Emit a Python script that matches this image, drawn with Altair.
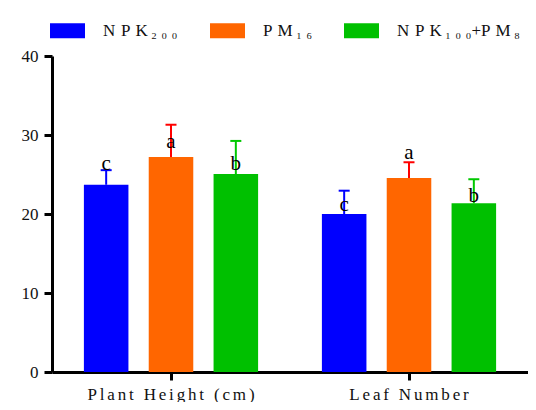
import altair as alt
import pandas as pd

groups = ["Plant Height (cm)", "Leaf Number"]
treatments = [
    "N \u200aP \u200aK\u2009\u2082 \u2080 \u2080",
    "P \u200aM\u2009\u2081 \u2086",
    "N \u200aP \u200aK\u2009\u2081 \u2080 \u2080+P \u200aM\u2009\u2088",
]
means_height = [23.7, 27.2, 25.05]
means_leaf = [20.0, 24.55, 21.35]
err_height = [1.85, 4.1, 4.2]
err_leaf = [2.95, 2.0, 3.05]
letters_height = ["c", "a", "b"]
letters_leaf = ["c", "a", "b"]
letter_y_height = [25.6, 28.4, 25.6]
letter_y_leaf = [20.4, 26.9, 21.5]

bar_colors = ["#0000FF", "#FF6600", "#00C000"]
err_colors = ["#0000FF", "#FF0000", "#00C800"]

rows = []
for g, means, errs, lets, ly in [
    (groups[0], means_height, err_height, letters_height, letter_y_height),
    (groups[1], means_leaf, err_leaf, letters_leaf, letter_y_leaf),
]:
    for t, m, e, l, y in zip(treatments, means, errs, lets, ly):
        rows.append({"group": g, "treatment": t, "mean": m, "top": m + e, "letter": l, "ly": y})
df = pd.DataFrame(rows)

FONT = "Liberation Serif"

x_enc = alt.X(
    "group:N",
    sort=groups,
    scale=alt.Scale(paddingInner=0, paddingOuter=0),
    axis=alt.Axis(
        title=None,
        labelAngle=0,
        labelFont=FONT,
        labelFontSize=17,
        labelColor="#111111",
        labelPadding=6,
        labelExpr="join(split(datum.label, ''), '\u2006')",
        domainColor="black",
        domainWidth=3,
        tickColor="black",
        tickWidth=3,
        tickSize=8,
    ),
)
xoff = alt.XOffset("treatment:N", sort=treatments, scale=alt.Scale(paddingInner=0.313, paddingOuter=0.492))
y_scale = alt.Scale(domain=[0, 40], nice=False)

base = alt.Chart(df)

bars = base.mark_bar().encode(
    x=x_enc,
    xOffset=xoff,
    y=alt.Y(
        "mean:Q",
        scale=y_scale,
        axis=alt.Axis(
            title=None,
            values=[0, 10, 20, 30, 40],
            grid=False,
            labelFont=FONT,
            labelFontSize=17,
            labelColor="#111111",
            labelPadding=6,
            domainColor="black",
            domainWidth=3,
            tickColor="black",
            tickWidth=3,
            tickSize=8,
        ),
    ),
    color=alt.Color(
        "treatment:N",
        sort=treatments,
        scale=alt.Scale(domain=treatments, range=bar_colors),
        legend=alt.Legend(
            title=None,
            orient="none",
            direction="horizontal",
            legendX=-2,
            legendY=-43,
            symbolType="M-1,-0.43H1V0.43H-1Z",
            symbolSize=1225,
            symbolStrokeWidth=0,
            symbolOpacity=1,
            labelFont=FONT,
            labelFontSize=17,
            labelColor="#111111",
            labelOffset=18,
            columnPadding=31,
            padding=0,
        ),
    ),
)

rules = base.mark_rule(strokeWidth=2).encode(
    x=x_enc,
    xOffset=xoff,
    y=alt.Y("mean:Q", scale=y_scale),
    y2="top:Q",
    color=alt.Color("treatment:N", scale=alt.Scale(domain=treatments, range=err_colors), legend=None),
)

caps = base.mark_tick(size=11, thickness=2, opacity=1).encode(
    x=x_enc,
    xOffset=xoff,
    y=alt.Y("top:Q", scale=y_scale),
    color=alt.Color("treatment:N", scale=alt.Scale(domain=treatments, range=err_colors), legend=None),
)

texts = base.mark_text(font=FONT, fontSize=21, baseline="alphabetic", color="black").encode(
    x=x_enc,
    xOffset=xoff,
    y=alt.Y("ly:Q", scale=y_scale),
    text="letter:N",
)

chart = (
    alt.layer(bars, rules, caps, texts)
    .resolve_scale(color="independent")
    .properties(
        width=476,
        height=316,
        autosize=alt.AutoSizeParams(type="none"),
        padding={"left": 44, "top": 48, "right": 0, "bottom": 30},
    )
    .configure_view(strokeWidth=0)
)

chart.save("out.html", embed_options={"renderer": "svg", "actions": False})
